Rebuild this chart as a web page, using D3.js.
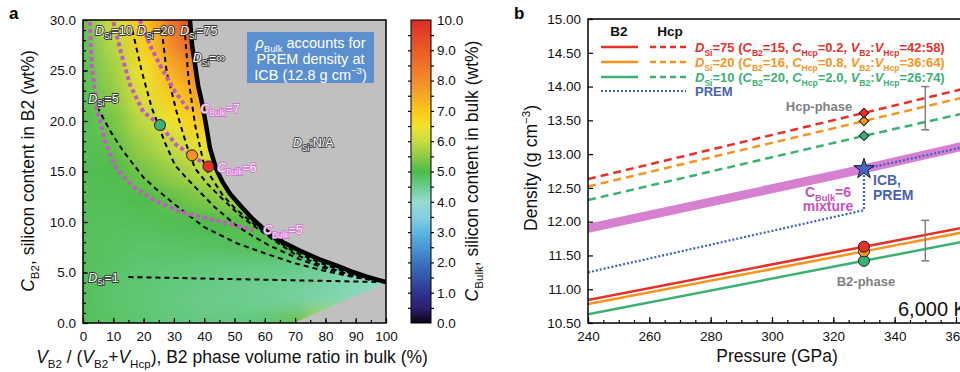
<!DOCTYPE html>
<html><head><meta charset="utf-8">
<script src="https://cdn.jsdelivr.net/npm/d3@7/dist/d3.min.js"></script>
<style>
body{margin:0;background:#fff;overflow:hidden}
svg{display:block;font-family:"Liberation Sans",Arial,sans-serif}
</style></head><body>
<div id="chart"></div>
<script>
// ---------- panel a data ----------
const volRatio = [0, 10, 20, 30, 40, 50, 60, 70, 80, 90, 100];
const cB2Levels = [30, 27.5, 25, 22.5, 20, 17.5, 15, 12.5, 10, 7.5, 5, 2.5, 0];
// C_Bulk, rows top (C_B2=30) to bottom (C_B2=0)
const bulkGrid = [
  [4.9, 6.1, 7.05, 8.8, 9.8, 9.9, 9.9, 9.9, 9.9, 9.9, 9.9],
  [4.9, 5.85, 6.85, 8.2, 9.2, 9.4, 9.4, 9.4, 9.4, 9.4, 9.4],
  [4.9, 5.65, 6.5, 7.5, 8.5, 8.7, 8.7, 8.7, 8.7, 8.7, 8.7],
  [4.9, 5.5, 6.25, 6.95, 7.8, 8.0, 8.0, 8.0, 8.0, 8.0, 8.0],
  [4.9, 5.3, 5.9, 6.5, 7.1, 7.3, 7.3, 7.3, 7.3, 7.3, 7.3],
  [4.9, 5.15, 5.6, 6.0, 6.4, 6.6, 6.6, 6.6, 6.6, 6.6, 6.6],
  [4.9, 5.0, 5.3, 5.6, 5.9, 6.0, 6.0, 6.0, 6.0, 6.0, 6.0],
  [4.9, 4.9, 5.0, 5.2, 5.4, 5.6, 5.6, 5.6, 5.6, 5.6, 5.6],
  [4.87, 4.83, 4.87, 4.92, 4.98, 5.05, 5.15, 5.2, 5.2, 5.2, 5.2],
  [4.87, 4.8, 4.77, 4.77, 4.8, 4.84, 4.88, 4.9, 4.9, 4.9, 4.9],
  [4.87, 4.77, 4.7, 4.66, 4.62, 4.58, 4.55, 4.5, 4.4, 4.2, 4.08],
  [4.87, 4.75, 4.68, 4.6, 4.55, 4.5, 4.45, 4.38, 4.28, 4.15, 4.08],
  [4.87, 4.78, 4.7, 4.63, 4.6, 4.6, 4.68, 5.2, 5.8, 5.8, 5.8]
];
const dSiInf = [[35.3,30],[36,27.5],[37,25.5],[38,23.5],[39.2,21.9],[40.5,19.8],[41.9,17.3],[44,15.2],[46,14],[48.5,12.8],[52,11.6],[56,10.3],[60.5,9.1],[66,8.0],[71.3,7.2],[78,6.3],[84.8,5.55],[89,5.05],[93.6,4.6],[97,4.3],[100,4.05]];
const lowerEdge = [[100,4.0],[69.5,0]];
const dSi75 = [[33.7,28.5],[34.8,24.2],[37,19.6],[39.7,16],[41.5,14.8],[46,12.7],[50,11.4],[56,9.9],[62,8.5],[70,7.0],[80,5.75],[90,4.75],[100,4.05]];
const dSi20 = [[26,29],[27.6,24.9],[30.9,20.9],[34.2,17.6],[37,15.3],[41,13.8],[46.3,12.2],[52,10.6],[57.3,9.4],[63,8.2],[70,6.8],[80,5.55],[90,4.65],[100,4.05]];
const dSi10 = [[16.3,29],[19.4,24.9],[22.7,21.3],[27,17.9],[30.4,15.6],[34,14.4],[43,11.6],[50,9.8],[56,8.6],[62,7.6],[71.6,6.3],[80,5.4],[88,4.75],[100,4.05]];
const dSi5 = [[4.7,21.4],[9,19],[13.3,17],[20,14.4],[24,13.3],[30,11.8],[40,9.5],[50.7,7.9],[60,6.9],[70,5.9],[80,5.15],[90,4.5],[100,4.05]];
const dSi1 = [[15,4.55],[100,4.05]];
const cBulk5 = [[2.3,29.8],[2.9,25.5],[4.5,21.3],[7.3,17.9],[11.1,15.2],[16.6,13.5],[23.2,12.2],[32,11],[43,10.2],[56.2,9.2]];
const cBulk6 = [[10,29.8],[12.8,26.5],[15.5,23.6],[19.9,20.9],[25.4,19.6],[30.9,17.6],[35.9,16.6],[41.4,15.5]];
const cBulk7 = [[18.8,30],[22.1,27.5],[26,25.2],[30.4,22.9],[35.3,20.9]];
const casePoints = [[25.4,19.6],[36,16.6],[41.4,15.5]]; // D_Si = 10, 20, 75
const cbarStops = [0,0.5,1,1.5,2,2.5,3,3.5,4,4.5,5,5.5,6,6.5,7,7.5,8,8.5,9,9.5,10];
const cbarColors = ['#0b0414','#2d1e6e','#2c3590','#3356a8','#3b74bc','#4a97d2','#5fb6e2','#84d0e2','#94dccf','#6ccd8f','#4dbb48','#8ecb47','#c8dc44','#f3e22c','#fcc817','#f7a828','#f28c2e','#ee732a','#ea5b28','#e44427','#dc2c25'];

// ---------- panel b data ----------
const pressure = [240, 330, 370];
const b2D75 = [10.84, 11.63, 11.98];
const b2D20 = [10.78, 11.56, 11.91];
const b2D10 = [10.63, 11.42, 11.77];
const hcpD75 = [12.63, 13.61, 14.05];
const hcpD20 = [12.52, 13.49, 13.92];
const hcpD10 = [12.32, 13.27, 13.68];
const mixBulk6 = [11.90, 12.78, 13.20];
const premP = [240, 330, 330, 370];
const premRho = [11.25, 12.17, 12.78, 13.18];
const icbP = 330, icbRho = 12.78;
const hcpMarks = [13.61, 13.49, 13.27];
const b2Marks = [11.63, 11.56, 11.42];
const errP = 350;
const errHcp = [13.36, 14.0];
const errB2 = [11.42, 12.02];
const legDsi = ['75', '20', '10'];
const legCB2 = ['15', '16', '20'];
const legCHcp = ['0.2', '0.8', '2.0'];
const legRatio = ['42:58', '36:64', '26:74'];

const caseColors = ['#e8302a', '#f7931e', '#3bb273'];

// rich text: parts = [text, kind]  kind '' | 'i' italic | 's' sub | 'u' sup
function rich(sel, parts, size) {
  let off = 0;
  parts.forEach(([t, k]) => {
    const ts = sel.append('tspan').text(t);
    let want = 0;
    if (k === 'i') ts.attr('font-style', 'italic');
    if (k === 's') { want = size * 0.28; ts.attr('font-size', size * 0.66); }
    if (k === 'u') { want = -size * 0.38; ts.attr('font-size', size * 0.66); }
    if (want !== off) ts.attr('dy', want - off);
    off = want;
  });
  return sel;
}

const svg = d3.select('#chart').append('svg').attr('width', 960).attr('height', 372);
const defs = svg.append('defs');

/* ================= panel a ================= */
const xA = d3.scaleLinear().domain([0, 100]).range([83, 386]);
const yA = d3.scaleLinear().domain([0, 30]).range([323, 20]);
const color = d3.scaleLinear().domain(cbarStops).range(cbarColors).clamp(true);
const lineA = d3.line().x(d => xA(d[0])).y(d => yA(d[1]));

defs.append('clipPath').attr('id', 'clipA').append('rect')
  .attr('x', xA(0)).attr('y', yA(30)).attr('width', xA(100) - xA(0)).attr('height', yA(0) - yA(30));
const validPoly = [[0, 30]].concat(dSiInf, lowerEdge, [[0, 0]]);
defs.append('clipPath').attr('id', 'validA').append('path')
  .attr('d', lineA(validPoly) + 'Z');
const blur = defs.append('filter').attr('id', 'soft')
  .attr('x', '-20%').attr('y', '-20%').attr('width', '140%').attr('height', '140%');
blur.append('feGaussianBlur').attr('stdDeviation', '10 8');

svg.append('rect').attr('x', xA(0)).attr('y', yA(30))
  .attr('width', xA(100) - xA(0)).attr('height', yA(0) - yA(30)).attr('fill', '#c0c0c0');

const cells = [];
cB2Levels.forEach((c, r) => volRatio.forEach((v, j) => cells.push({ v, c, val: bulkGrid[r][j], r, j })));
const pad = 25;
svg.append('g').attr('clip-path', 'url(#validA)')
  .append('g').attr('filter', 'url(#soft)')
  .selectAll('rect').data(cells).enter().append('rect')
  .attr('x', d => xA(d.v - 5) - (d.j === 0 ? pad : 0))
  .attr('y', d => yA(d.c + 1.25) - (d.r === 0 ? pad : 0))
  .attr('width', d => xA(d.v + 5) - xA(d.v - 5) + 0.5 + (d.j === 0 || d.j === volRatio.length - 1 ? pad : 0))
  .attr('height', d => yA(d.c - 1.25) - yA(d.c + 1.25) + 0.5 + (d.r === 0 || d.r === cB2Levels.length - 1 ? pad : 0))
  .attr('fill', d => color(d.val));

const gA = svg.append('g').attr('clip-path', 'url(#clipA)');
gA.selectAll('.dline').data([dSi1, dSi5, dSi10, dSi20, dSi75]).enter().append('path')
  .attr('d', lineA).attr('fill', 'none').attr('stroke', '#000')
  .attr('stroke-width', 2).attr('stroke-dasharray', '5,4');
gA.selectAll('.cline').data([cBulk5, cBulk6, cBulk7]).enter().append('path')
  .attr('d', lineA).attr('fill', 'none').attr('stroke', '#c25cc4')
  .attr('stroke-width', 4).attr('stroke-dasharray', '4,3');
gA.append('path').attr('d', lineA(dSiInf)).attr('fill', 'none')
  .attr('stroke', '#000').attr('stroke-width', 4.5);
gA.selectAll('.case').data(casePoints).enter().append('circle')
  .attr('cx', d => xA(d[0])).attr('cy', d => yA(d[1])).attr('r', 5.5)
  .attr('fill', (d, i) => caseColors[2 - i]).attr('stroke', '#222').attr('stroke-width', 1);

// axes a
const axA = svg.append('g');
function styleAxis(g) {
  g.select('.domain').remove();
  g.selectAll('text').attr('font-family', '"Liberation Sans",Arial,sans-serif').attr('font-size', 13.5).attr('fill', '#111');
  g.selectAll('line').attr('stroke', '#000').attr('stroke-width', 1.2);
}
axA.append('g').attr('transform', `translate(${xA(0)},0)`)
  .call(d3.axisLeft(yA).tickValues(d3.range(0, 30.01, 5)).tickFormat(d3.format('.1f')).tickSize(-5).tickPadding(7)).call(styleAxis);
axA.append('g').attr('transform', `translate(${xA(0)},0)`)
  .call(d3.axisLeft(yA).tickValues(d3.range(0, 30.01, 1)).tickFormat('').tickSize(-3)).call(styleAxis);
axA.append('g').attr('transform', `translate(0,${yA(0)})`)
  .call(d3.axisBottom(xA).tickValues(d3.range(0, 100.1, 10)).tickSize(-5).tickPadding(8)).call(styleAxis);
axA.append('g').attr('transform', `translate(0,${yA(0)})`)
  .call(d3.axisBottom(xA).tickValues(d3.range(0, 100.1, 5)).tickFormat('').tickSize(-3)).call(styleAxis);
svg.append('rect').attr('x', xA(0)).attr('y', yA(30))
  .attr('width', xA(100) - xA(0)).attr('height', yA(0) - yA(30))
  .attr('fill', 'none').attr('stroke', '#000').attr('stroke-width', 1.5);

// labels a
const labSize = 12.5;
function outline(x, y, parts, fill, stroke) {
  const t = svg.append('text').attr('x', x).attr('y', y).attr('font-size', labSize)
    .attr('fill', fill).attr('stroke', stroke).attr('stroke-width', 1.8)
    .attr('paint-order', 'stroke').attr('stroke-linejoin', 'round');
  rich(t, parts, labSize);
}
const dLab = (s) => [['D', 'i'], ['Si', 's'], [s, '']];
const cLab = (s) => [['C', 'i'], ['Bulk', 's'], [s, '']];
outline(xA(4), yA(28.5), dLab('=10'), '#fff', '#333');
outline(xA(17.8), yA(28.5), dLab('=20'), '#fff', '#333');
outline(xA(32), yA(28.5), dLab('=75'), '#fff', '#333');
outline(xA(36.2), yA(25.8), dLab('=\u221e'), '#fff', '#333');
outline(xA(1.7), yA(21.8), dLab('=5'), '#fff', '#333');
outline(xA(1.7), yA(4.1), dLab('=1'), '#fff', '#333');
outline(xA(69.3), yA(17.4), dLab(':N/A'), '#fff', '#444');
outline(xA(38.8), yA(20.8), cLab('=7'), '#fbe6fa', '#d277d2');
outline(xA(44.3), yA(15.0), cLab('=6'), '#fbe6fa', '#d277d2');
outline(xA(59.5), yA(8.8), cLab('=5'), '#fbe6fa', '#d277d2');

svg.append('rect').attr('x', 247).attr('y', 32).attr('width', 127).attr('height', 51).attr('fill', '#5b8fcf');
const boxT = svg.append('text').attr('fill', '#fff').attr('font-size', 14.5).attr('text-anchor', 'middle');
rich(boxT.append('tspan').attr('x', 310.5).attr('y', 48), [['\u03c1', 'i'], ['Bulk', 's'], [' accounts for', '']], 14.5);
boxT.append('tspan').attr('x', 310.5).attr('y', 64).text('PREM density at');
rich(boxT.append('tspan').attr('x', 310.5).attr('y', 80), [['ICB (12.8 g cm', ''], ['\u22123', 'u'], [')', '']], 14.5);

rich(svg.append('text').attr('x', 232).attr('y', 363).attr('text-anchor', 'middle').attr('font-size', 17.5).attr('fill', '#111'),
  [['V', 'i'], ['B2', 's'], [' / (', ''], ['V', 'i'], ['B2', 's'], ['+', ''], ['V', 'i'], ['Hcp', 's'], ['), B2 phase volume ratio in bulk (%)', '']], 17.5);
rich(svg.append('text').attr('transform', 'translate(34,171) rotate(-90)').attr('text-anchor', 'middle').attr('font-size', 17.5).attr('fill', '#111'),
  [['C', 'i'], ['B2', 's'], [', silicon content in B2 (wt%)', '']], 17.5);
svg.append('text').attr('x', 9).attr('y', 19).attr('font-size', 17).attr('font-weight', 'bold').text('a');

// colour bar
const yC = d3.scaleLinear().domain([0, 10]).range([323, 20]);
const grad = defs.append('linearGradient').attr('id', 'cbar').attr('x1', 0).attr('y1', 1).attr('x2', 0).attr('y2', 0);
grad.selectAll('stop').data(cbarStops).enter().append('stop')
  .attr('offset', d => d / 10).attr('stop-color', (d, i) => cbarColors[i]);
svg.append('rect').attr('x', 411).attr('y', yC(10)).attr('width', 20).attr('height', yC(0) - yC(10))
  .attr('fill', 'url(#cbar)').attr('stroke', '#000').attr('stroke-width', 1);
svg.append('g').attr('transform', 'translate(431,0)')
  .call(d3.axisRight(yC).tickValues(d3.range(0, 10.01, 1)).tickFormat(d3.format('.1f')).tickSize(0).tickPadding(6)).call(styleAxis);
svg.append('g').attr('transform', 'translate(431,0)')
  .call(d3.axisLeft(yC).tickValues(d3.range(0.5, 10, 0.5)).tickFormat('').tickSize(-3)).call(styleAxis);
svg.append('g').attr('transform', 'translate(411,0)')
  .call(d3.axisRight(yC).tickValues(d3.range(0.5, 10, 0.5)).tickFormat('').tickSize(-3)).call(styleAxis);
rich(svg.append('text').attr('transform', 'translate(478,171) rotate(-90)').attr('text-anchor', 'middle').attr('font-size', 17.5).attr('fill', '#111'),
  [['C', 'i'], ['Bulk', 's'], [', silicon content in bulk (wt%)', '']], 17.5);

/* ================= panel b ================= */
const xB = d3.scaleLinear().domain([240, 380]).range([588, 1017.3]);
const yB = d3.scaleLinear().domain([10.5, 15]).range([323, 19]);
defs.append('clipPath').attr('id', 'clipB').append('rect')
  .attr('x', 588).attr('y', 19).attr('width', 430).attr('height', 304);
const lineB = d3.line().x(d => xB(d[0])).y(d => yB(d[1]));
const zipP = (vals) => pressure.map((p, i) => [p, vals[i]]);

const gB = svg.append('g').attr('clip-path', 'url(#clipB)');
gB.append('path').attr('d', lineB(zipP(mixBulk6))).attr('fill', 'none')
  .attr('stroke', '#d681d0').attr('stroke-width', 9);
[b2D75, b2D20, b2D10].forEach((s, i) => {
  gB.append('path').attr('d', lineB(zipP(s))).attr('fill', 'none')
    .attr('stroke', caseColors[i]).attr('stroke-width', 2.5);
});
[hcpD75, hcpD20, hcpD10].forEach((s, i) => {
  gB.append('path').attr('d', lineB(zipP(s))).attr('fill', 'none')
    .attr('stroke', caseColors[i]).attr('stroke-width', 2.5).attr('stroke-dasharray', '8,5');
});
gB.append('path').attr('d', lineB(premP.map((p, i) => [p, premRho[i]]))).attr('fill', 'none')
  .attr('stroke', '#3d5fbf').attr('stroke-width', 2.2).attr('stroke-dasharray', '2,2');
// error bars
[errHcp, errB2].forEach(e => {
  const g = gB.append('g').attr('stroke', '#808080').attr('stroke-width', 1.5);
  g.append('line').attr('x1', xB(errP)).attr('x2', xB(errP)).attr('y1', yB(e[0])).attr('y2', yB(e[1]));
  e.forEach(v => g.append('line').attr('x1', xB(errP) - 4).attr('x2', xB(errP) + 4).attr('y1', yB(v)).attr('y2', yB(v)));
});
gB.selectAll('.cir').data(b2Marks.slice().reverse()).enter().append('circle')
  .attr('cx', xB(icbP)).attr('cy', d => yB(d)).attr('r', 5.5)
  .attr('fill', (d, i) => caseColors[2 - i]).attr('stroke', '#222').attr('stroke-width', 1);
gB.selectAll('.dia').data(hcpMarks.slice().reverse()).enter().append('path')
  .attr('d', d3.symbol().type(d3.symbolSquare).size(46))
  .attr('transform', d => `translate(${xB(icbP)},${yB(d)}) rotate(45)`)
  .attr('fill', (d, i) => caseColors[2 - i]).attr('stroke', '#222').attr('stroke-width', 1);
gB.append('path').attr('d', d3.symbol().type(d3.symbolStar).size(130))
  .attr('transform', `translate(${xB(icbP)},${yB(icbRho)})`)
  .attr('fill', '#4666c2').attr('stroke', '#1a1a3a').attr('stroke-width', 1);

// axes b
svg.append('g').attr('transform', 'translate(588,0)')
  .call(d3.axisLeft(yB).tickValues(d3.range(10.5, 15.01, 0.5)).tickFormat(d3.format('.2f')).tickSize(-5).tickPadding(7)).call(styleAxis);
svg.append('g').attr('transform', 'translate(0,323)')
  .call(d3.axisBottom(xB).tickValues(d3.range(240, 381, 20)).tickFormat(d3.format('d')).tickSize(-6).tickPadding(8)).call(styleAxis);
svg.append('g').attr('transform', 'translate(0,323)')
  .call(d3.axisBottom(xB).tickValues(d3.range(240, 381, 5)).tickFormat('').tickSize(-3)).call(styleAxis);
svg.append('path').attr('d', 'M960,19H588V323H960').attr('fill', 'none').attr('stroke', '#000').attr('stroke-width', 1.5);

// annotations b
const bold = (x, y, txt, fill, size, anchor) => svg.append('text').attr('x', x).attr('y', y)
  .attr('font-size', size).attr('font-weight', 'bold').attr('fill', fill).attr('text-anchor', anchor || 'start').text(txt);
bold(819, 111, 'Hcp-phase', '#808080', 13, 'middle');
bold(866, 286, 'B2-phase', '#808080', 13, 'middle');
bold(873, 185, 'ICB,', '#4a62b0', 14);
bold(873, 200, 'PREM', '#4a62b0', 14);
rich(bold(828, 197, '', '#c553c0', 14, 'middle'), [['C', ''], ['Bulk', 's'], ['=6', '']], 14);
bold(828, 211, 'mixture', '#c553c0', 14, 'middle');
svg.append('text').attr('x', 898).attr('y', 316).attr('font-size', 20).attr('fill', '#111').text('6,000 K');
svg.append('text').attr('x', 514).attr('y', 19).attr('font-size', 17).attr('font-weight', 'bold').text('b');
svg.append('text').attr('x', 777).attr('y', 362).attr('text-anchor', 'middle').attr('font-size', 17.5).attr('fill', '#111').text('Pressure (GPa)');
rich(svg.append('text').attr('transform', 'translate(537,168) rotate(-90)').attr('text-anchor', 'middle').attr('font-size', 17.5).attr('fill', '#111'),
  [['Density (g cm', ''], ['\u22123', 'u'], [')', '']], 17.5);

// legend b
bold(619, 36, 'B2', '#111', 13.5, 'middle');
bold(670, 36, 'Hcp', '#111', 13.5, 'middle');
const legRows = [47, 62, 77];
legDsi.forEach((d, i) => {
  const y = legRows[i];
  svg.append('line').attr('x1', 601).attr('x2', 638).attr('y1', y).attr('y2', y)
    .attr('stroke', caseColors[i]).attr('stroke-width', 2.5);
  svg.append('line').attr('x1', 650).attr('x2', 686).attr('y1', y).attr('y2', y)
    .attr('stroke', caseColors[i]).attr('stroke-width', 2.5).attr('stroke-dasharray', '6,4');
  rich(bold(695, y + 5, '', caseColors[i], 13), [
    ['D', 'i'], ['Si', 's'], ['=' + d + ' (', ''], ['C', 'i'], ['B2', 's'], ['=' + legCB2[i] + ', ', ''],
    ['C', 'i'], ['Hcp', 's'], ['=' + legCHcp[i] + ', ', ''], ['V', 'i'], ['B2', 's'], [':', ''],
    ['V', 'i'], ['Hcp', 's'], ['=' + legRatio[i] + ')', '']], 13);
});
svg.append('line').attr('x1', 601).attr('x2', 686).attr('y1', 91).attr('y2', 91)
  .attr('stroke', '#3d5fbf').attr('stroke-width', 2.2).attr('stroke-dasharray', '2,2');
bold(695, 96, 'PREM', '#4a62b0', 13);
</script>
</body></html>
